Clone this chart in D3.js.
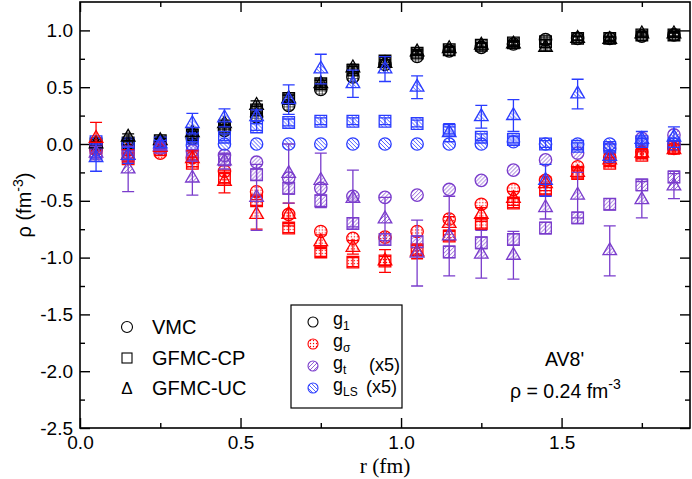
<!DOCTYPE html>
<html>
<head>
<meta charset="utf-8">
<script src="https://cdn.jsdelivr.net/npm/d3@7"></script>
<style>
  body { margin: 0; background: #fff; }
  svg { display: block; }
  text { font-family: "Liberation Sans", Arial, Helvetica, sans-serif; }
</style>
</head>
<body>
<svg id="chart" width="692" height="479"></svg>
<script>
// r grid (fm)
const r = [0.05,0.15,0.25,0.35,0.45,0.55,0.65,0.75,0.85,0.95,1.05,1.15,1.25,1.35,1.45,1.55,1.65,1.75,1.85];

// g1
const g1VMC = [0.00,0.00,0.02,0.05,0.12,0.24,0.34,0.48,0.59,0.70,0.77,0.82,0.85,0.88,0.92,0.93,0.93,0.95,0.96];
const g1CP  = [0.00,0.01,0.03,0.08,0.14,0.30,0.40,0.53,0.65,0.73,0.80,0.83,0.87,0.89,0.90,0.93,0.93,0.96,0.96];
const g1UC  = [0.00,0.06,0.03,0.10,0.18,0.34,0.40,0.53,0.67,0.71,0.81,0.84,0.87,0.88,0.85,0.93,0.92,0.97,0.97];
const g1CPerr = [0.02,0.02,0.02,0.03,0.03,0.03,0.03,0.03,0.03,0.03,0.02,0.02,0.02,0.02,0.02,0.02,0.02,0.02,0.02];
const g1UCerr = [0.02,0.03,0.02,0.03,0.03,0.04,0.03,0.03,0.03,0.03,0.02,0.02,0.02,0.02,0.03,0.02,0.02,0.02,0.02];

// g_sigma
const gsVMC = [-0.02,-0.05,-0.08,-0.12,-0.24,-0.42,-0.62,-0.77,-0.83,-0.82,-0.77,-0.66,-0.53,-0.40,-0.32,-0.20,-0.12,-0.07,-0.04];
const gsCP  = [-0.03,-0.13,-0.05,-0.17,-0.30,-0.50,-0.74,-0.95,-1.04,-1.03,-0.93,-0.81,-0.70,-0.52,-0.40,-0.26,-0.17,-0.10,-0.03];
const gsUC  = [0.05,-0.10,-0.03,-0.13,-0.33,-0.62,-0.62,-0.86,-0.91,-1.03,-0.95,-0.70,-0.62,-0.48,-0.35,-0.25,-0.14,-0.08,-0.05];
const gsCPerr = [0.03,0.03,0.02,0.03,0.04,0.04,0.04,0.04,0.04,0.04,0.04,0.04,0.04,0.04,0.04,0.03,0.03,0.03,0.03];
const gsUCerr = [0.14,0.05,0.03,0.07,0.10,0.13,0.10,0.06,0.06,0.10,0.06,0.06,0.06,0.06,0.06,0.05,0.05,0.04,0.04];

// g_t (x5)
const gtVMC = [-0.05,-0.08,-0.04,-0.06,-0.10,-0.16,-0.30,-0.39,-0.46,-0.47,-0.45,-0.40,-0.32,-0.23,-0.14,-0.08,-0.04,0.05,0.08];
const gtCP  = [-0.08,-0.10,-0.03,-0.10,-0.14,-0.27,-0.39,-0.50,-0.70,-0.84,-0.86,-0.95,-0.87,-0.84,-0.74,-0.65,-0.53,-0.36,-0.29];
const gtUC  = [-0.08,-0.22,-0.02,-0.30,-0.15,-0.47,-0.26,-0.32,-0.48,-0.66,-0.96,-0.81,-0.97,-0.98,-0.56,-0.45,-0.94,-0.49,-0.37];
const gtCPerr = [0.04,0.04,0.03,0.04,0.05,0.05,0.05,0.05,0.05,0.05,0.05,0.05,0.05,0.05,0.05,0.05,0.05,0.05,0.05];
const gtUCerr = [0.06,0.20,0.03,0.15,0.07,0.29,0.26,0.24,0.25,0.19,0.29,0.35,0.21,0.21,0.10,0.20,0.22,0.16,0.11];

// g_LS (x5)
const glVMC = [0.00,0.00,0.00,-0.01,0.00,0.00,0.00,0.00,0.00,0.00,0.00,0.00,0.00,0.02,0.00,0.00,0.00,0.00,0.00];
const glCP  = [0.02,0.00,0.01,0.05,0.06,0.15,0.19,0.20,0.20,0.20,0.18,0.12,0.06,0.04,0.00,-0.02,-0.03,0.02,0.00];
const glUC  = [-0.12,-0.10,0.00,0.18,0.23,0.24,0.39,0.66,0.53,0.66,0.50,0.10,0.24,0.25,-0.32,0.44,-0.11,0.04,0.06];
const glCPerr = [0.03,0.03,0.02,0.03,0.03,0.03,0.03,0.03,0.03,0.03,0.03,0.03,0.03,0.03,0.03,0.03,0.03,0.03,0.03];
const glUCerr = [0.12,0.07,0.03,0.09,0.08,0.06,0.13,0.13,0.12,0.11,0.10,0.08,0.10,0.14,0.14,0.13,0.05,0.07,0.09];

const xMajor = [0, 0.5, 1.0, 1.5];
const xMinor = [0.25, 0.75, 1.25, 1.75];
const yMajor = [-2.5, -2.0, -1.5, -1.0, -0.5, 0.0, 0.5, 1.0];
const yMinor = [-2.25, -1.75, -1.25, -0.75, -0.25, 0.25, 0.75];

const comps = [
  {key: "g1", color: "#000000", pat: "p1", vmc: g1VMC, cp: g1CP, uc: g1UC, cpErr: g1CPerr, ucErr: g1UCerr},
  {key: "gs", color: "#ff0000", pat: "ps", vmc: gsVMC, cp: gsCP, uc: gsUC, cpErr: gsCPerr, ucErr: gsUCerr},
  {key: "gt", color: "#7a3ccc", pat: "pt", vmc: gtVMC, cp: gtCP, uc: gtUC, cpErr: gtCPerr, ucErr: gtUCerr},
  {key: "gl", color: "#2a3cff", pat: "pl", vmc: glVMC, cp: glCP, uc: glUC, cpErr: glCPerr, ucErr: glUCerr}
];

const W = 692, H = 479;
const m = {left: 80, right: 2, top: 2, bottom: 51};
const svg = d3.select("#chart");

const x = d3.scaleLinear().domain([0, 1.9]).range([m.left, W - m.right]);
const y = d3.scaleLinear().domain([-2.5, 1.25]).range([H - m.bottom, m.top]);

// fill patterns
const defs = svg.append("defs");
function pattern(id, size) {
  return defs.append("pattern").attr("id", id)
    .attr("patternUnits", "userSpaceOnUse").attr("width", size).attr("height", size);
}
const p1 = pattern("p1", 3);
p1.append("path").attr("d", "M0,1.5H3M1.5,0V3").attr("stroke", "#000").attr("stroke-width", 0.6);
const ps = pattern("ps", 3);
ps.append("circle").attr("cx", 1.5).attr("cy", 1.5).attr("r", 0.7).attr("fill", "#ff0000");
const pt = pattern("pt", 4);
pt.append("path").attr("d", "M0,4L4,0M-1,1L1,-1M3,5L5,3").attr("stroke", "#7a3ccc").attr("stroke-width", 0.8);
const pl = pattern("pl", 4);
pl.append("path").attr("d", "M0,0L4,4M-1,3L1,5M3,-1L5,1").attr("stroke", "#2a3cff").attr("stroke-width", 0.8);

// axes, ticks inward
const fmt = d => d.toFixed(1);
function axis(gen, tx, ty, vals, size, labels, pad) {
  const a = gen.tickValues(vals).tickSize(size).tickSizeOuter(0)
    .tickPadding(pad || 0).tickFormat(labels ? fmt : () => "");
  const g = svg.append("g").attr("transform", `translate(${tx},${ty})`).call(a);
  g.select(".domain").remove();
  g.selectAll("line").attr("stroke", "#000").attr("stroke-width", 1.4);
  g.selectAll("text").attr("font-size", 19).attr("fill", "#000");
  return g;
}
const yb = H - m.bottom, yt = m.top, xl = m.left, xr = W - m.right;
axis(d3.axisBottom(x), 0, yb, xMajor, -10, true, 8);
axis(d3.axisBottom(x), 0, yb, xMinor, -5, false);
axis(d3.axisTop(x), 0, yt, xMajor, -10, false);
axis(d3.axisTop(x), 0, yt, xMinor, -5, false);
axis(d3.axisLeft(y), xl, 0, yMajor, -10, true, 7);
axis(d3.axisLeft(y), xl, 0, yMinor, -5, false);
axis(d3.axisRight(y), xr, 0, yMajor, -10, false);
axis(d3.axisRight(y), xr, 0, yMinor, -5, false);

svg.append("rect").attr("x", xl).attr("y", yt).attr("width", xr - xl).attr("height", yb - yt)
  .attr("fill", "none").attr("stroke", "#000").attr("stroke-width", 1.6);

// data marks
const plot = svg.append("g");
const sym = {
  vmc: d3.symbol().type(d3.symbolCircle).size(120),
  cp: d3.symbol().type(d3.symbolSquare).size(135),
  uc: d3.symbol().type(d3.symbolTriangle).size(80)
};

["vmc", "cp", "uc"].forEach(meth => {
  comps.forEach(c => {
    const pts = r.map((rv, i) => ({r: rv, v: c[meth][i], e: meth === "vmc" ? 0 : c[meth + "Err"][i]}));
    const g = plot.append("g").attr("stroke", c.color).attr("stroke-width", 1.3);
    if (meth !== "vmc") {
      g.selectAll(".eb").data(pts).join("path")
        .attr("fill", "none")
        .attr("d", d => {
          const cx = x(d.r), y0 = y(d.v - d.e), y1 = y(d.v + d.e);
          return `M${cx},${y0}V${y1}M${cx - 6},${y0}H${cx + 6}M${cx - 6},${y1}H${cx + 6}`;
        });
    }
    g.selectAll(".mk").data(pts).join("path")
      .attr("transform", d => `translate(${x(d.r)},${y(d.v)})`)
      .attr("d", sym[meth]())
      .attr("fill", `url(#${c.pat})`);
  });
});

// y title
const yt1 = svg.append("text").attr("transform", "translate(31,205) rotate(-90)")
  .attr("text-anchor", "middle").attr("font-size", 20);
yt1.append("tspan").text("ρ (fm");
yt1.append("tspan").attr("dy", -8).attr("font-size", 14).text("-3");
yt1.append("tspan").attr("dy", 8).text(")");

// x title (serif)
svg.append("text").attr("x", x(0.95)).attr("y", 473).attr("text-anchor", "middle")
  .attr("font-size", 21.5).style("font-family", "'Liberation Serif', 'Times New Roman', serif")
  .text("r (fm)");

// method legend
const methLeg = [
  {label: "VMC", y: 327},
  {label: "GFMC-CP", y: 358},
  {label: "GFMC-UC", y: 388}
];
const ml = svg.append("g");
ml.append("circle").attr("cx", 127).attr("cy", methLeg[0].y).attr("r", 5.5)
  .attr("fill", "none").attr("stroke", "#000").attr("stroke-width", 1.1);
ml.append("rect").attr("x", 122).attr("y", methLeg[1].y - 5).attr("width", 10).attr("height", 10)
  .attr("fill", "none").attr("stroke", "#000").attr("stroke-width", 1.1);
ml.append("text").attr("x", 127).attr("y", methLeg[2].y + 6).attr("text-anchor", "middle")
  .attr("font-size", 17).text("Δ");
ml.selectAll(".lt").data(methLeg).join("text")
  .attr("x", 152).attr("y", d => d.y + 7).attr("font-size", 20).text(d => d.label);

// component legend
const compLeg = [
  {sub: "1", extra: "", pat: "none", color: "#000000", y: 322},
  {sub: "σ", extra: "", pat: "url(#ps)", color: "#ff0000", y: 344},
  {sub: "t", extra: "(x5)", pat: "url(#pt)", color: "#7a3ccc", y: 366},
  {sub: "LS", extra: "(x5)", pat: "url(#pl)", color: "#2a3cff", y: 388}
];
const cl = svg.append("g");
cl.append("rect").attr("x", 291).attr("y", 305).attr("width", 111).attr("height", 103)
  .attr("fill", "#fff").attr("stroke", "#000").attr("stroke-width", 1.2);
compLeg.forEach(d => {
  cl.append("circle").attr("cx", 313).attr("cy", d.y).attr("r", 5)
    .attr("fill", d.pat).attr("stroke", d.color).attr("stroke-width", 1.1);
  const t = cl.append("text").attr("x", 333).attr("y", d.y + 3).attr("font-size", 18);
  t.append("tspan").text("g");
  t.append("tspan").attr("dy", 5).attr("font-size", 12).text(d.sub);
  if (d.extra) {
    cl.append("text").attr("x", d.sub === "t" ? 369 : 366).attr("y", d.y + 5)
      .attr("font-size", 18).text(d.extra);
  }
});

// annotations
svg.append("text").attr("x", 545).attr("y", 366).attr("font-size", 19.5).text("AV8'");
const rho = svg.append("text").attr("x", 510).attr("y", 398).attr("font-size", 19.5);
rho.append("tspan").text("ρ = 0.24 fm");
rho.append("tspan").attr("dy", -9).attr("font-size", 14).text("-3");
</script>
</body>
</html>
